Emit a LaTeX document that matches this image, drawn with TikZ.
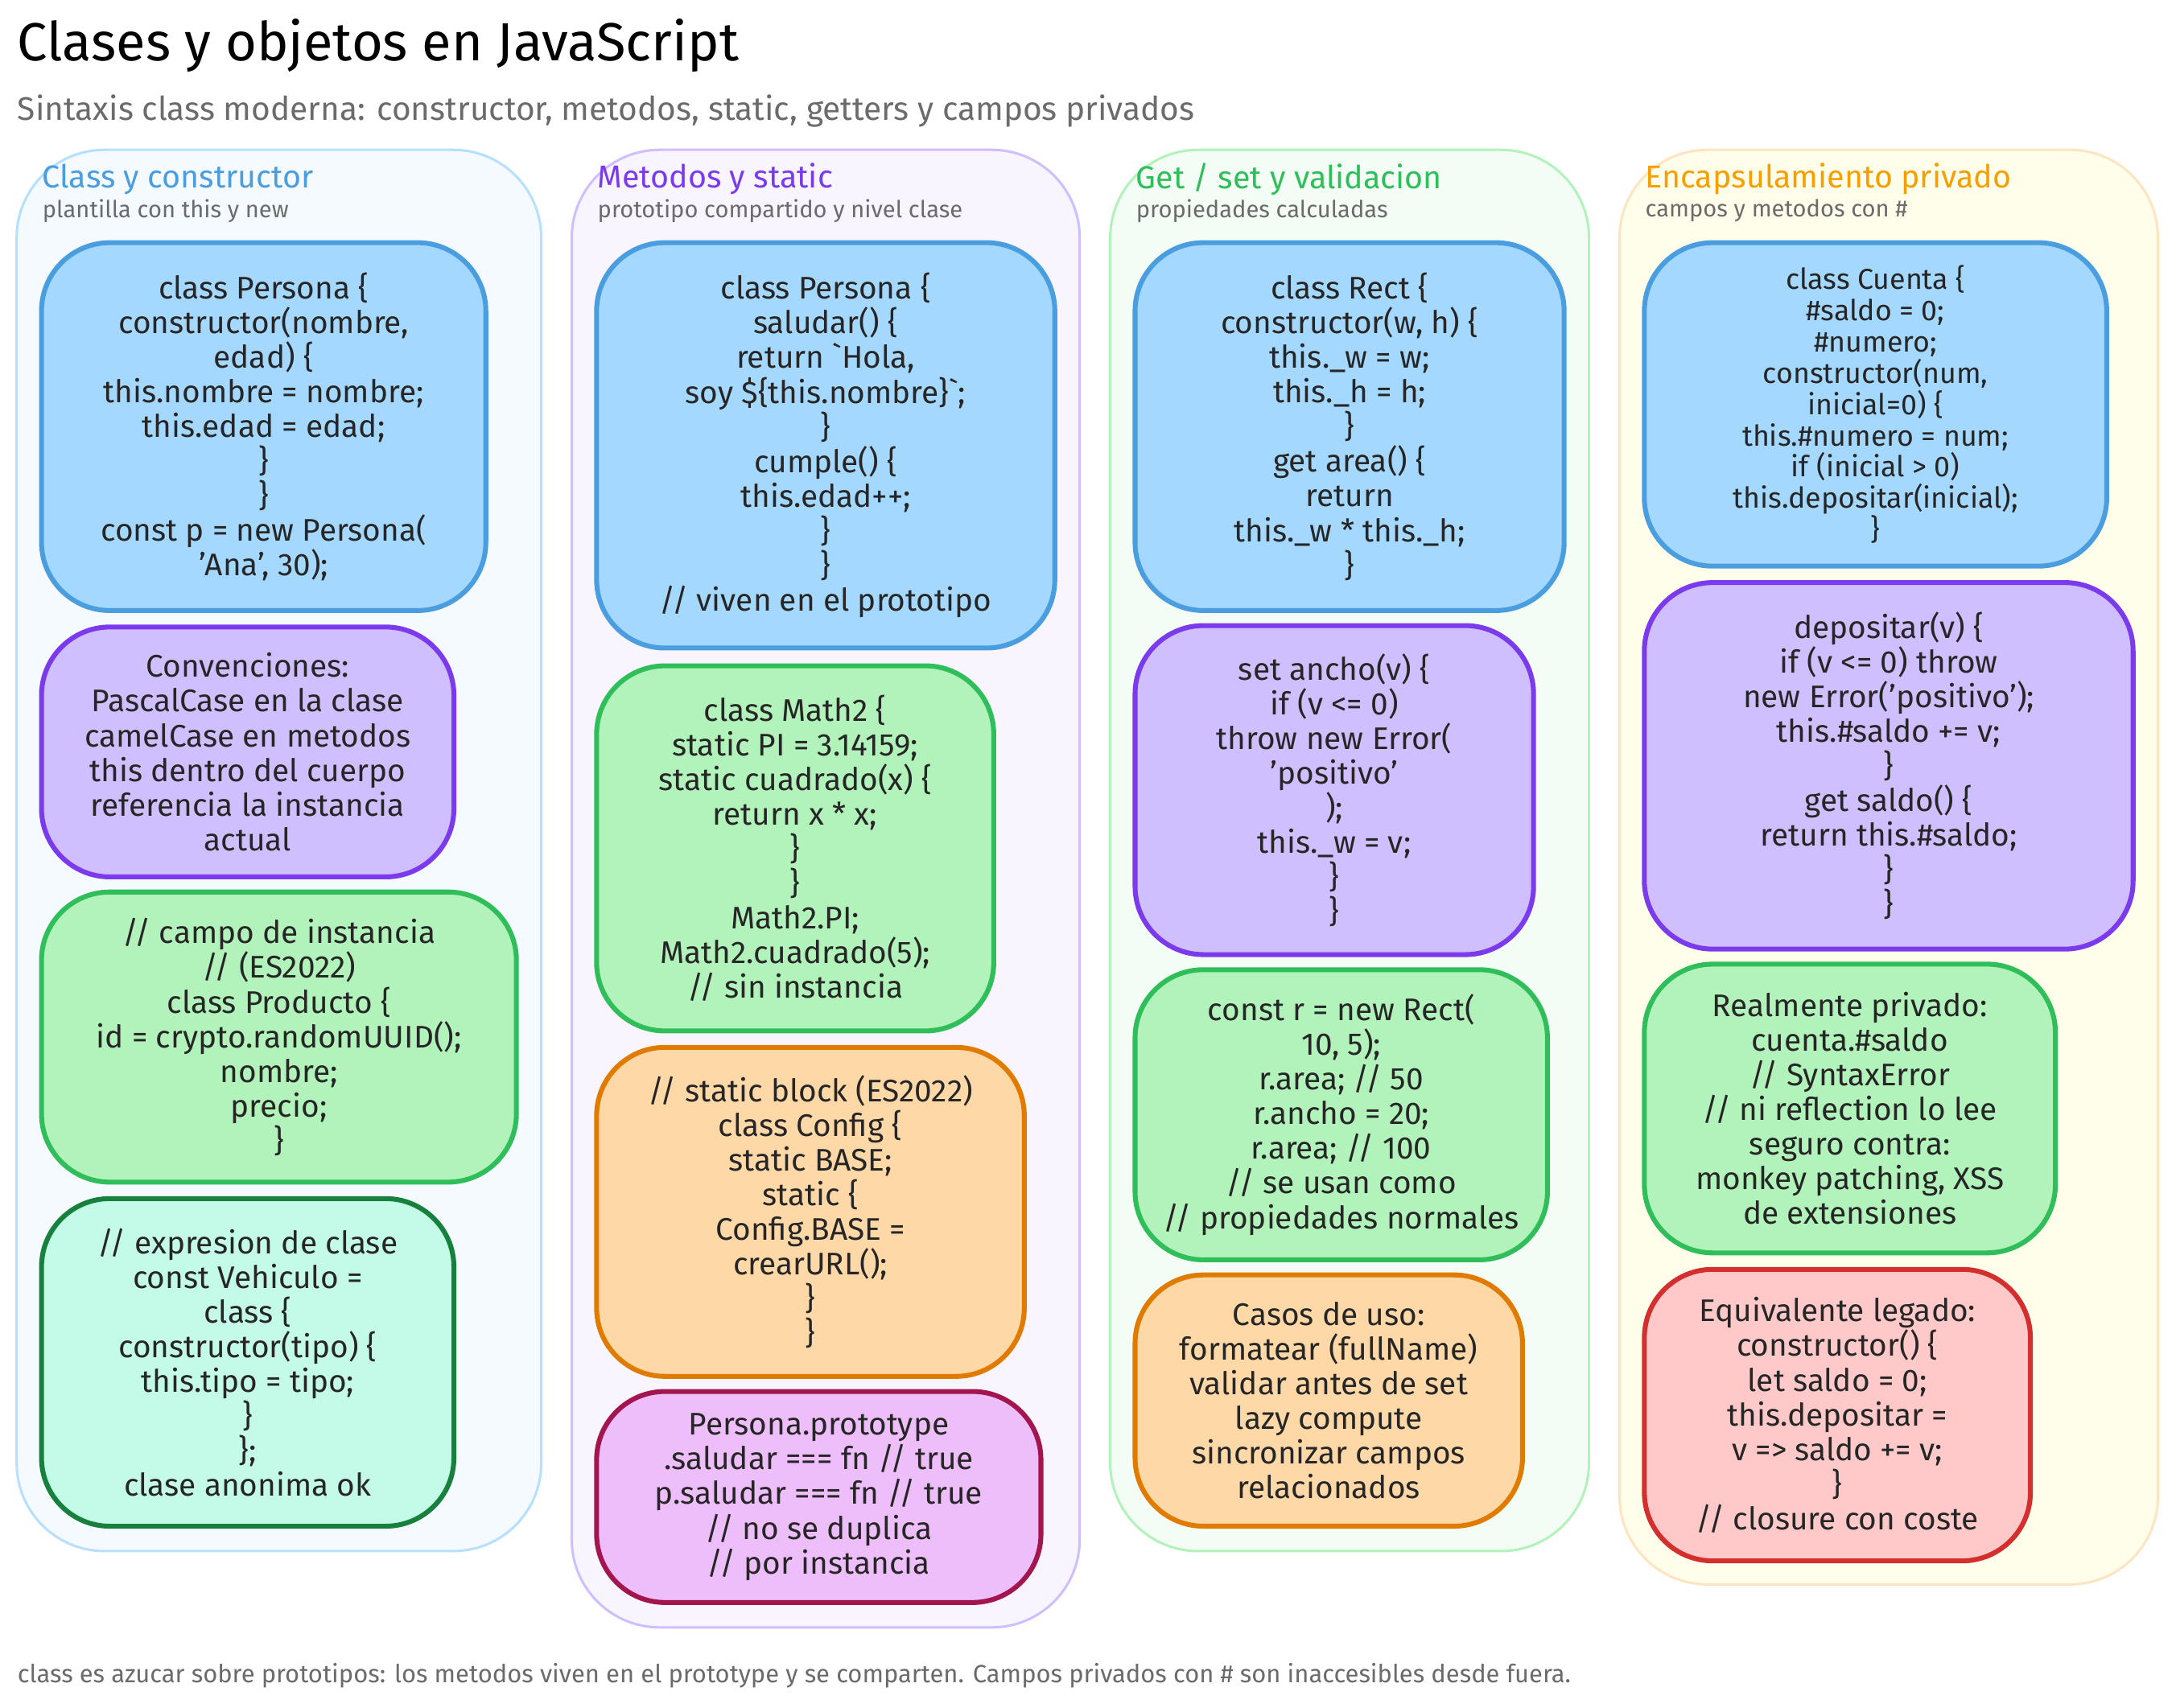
\documentclass[tikz,border=0pt]{standalone}
\usepackage{fontspec}
\setmainfont{Fira Sans}
\usetikzlibrary{positioning}
\definecolor{jsblue}{HTML}{A5D8FF}
\definecolor{jsbluedk}{HTML}{4A9EE0}
\definecolor{jspurple}{HTML}{D0BFFF}
\definecolor{jspurpledk}{HTML}{7C3AED}
\definecolor{jsgreen}{HTML}{B2F2BB}
\definecolor{jsgreendk}{HTML}{2FBE5A}
\definecolor{jsteal}{HTML}{C3FAE8}
\definecolor{jstealdk}{HTML}{17803D}
\definecolor{jsorange}{HTML}{FFD8A8}
\definecolor{jsorangedk}{HTML}{E07B00}
\definecolor{jspink}{HTML}{EEBEFA}
\definecolor{jspinkdk}{HTML}{A3154F}
\definecolor{jsred}{HTML}{FFC9C9}
\definecolor{jsreddk}{HTML}{D32F2F}
\definecolor{jsgray}{HTML}{6B6B6B}
\definecolor{jsyellowdk}{HTML}{F5A000}
\tikzset{
  lane/.style={draw, rounded corners=18pt, line width=0.5pt},
  box/.style={draw, rounded corners=14pt, line width=1pt, align=center,
    font=\fontsize{6.4}{7.1}\selectfont, text=black!85},
  bluebox/.style={box, fill=jsblue, draw=jsbluedk},
  purplebox/.style={box, fill=jspurple, draw=jspurpledk},
  greenbox/.style={box, fill=jsgreen, draw=jsgreendk},
  tealbox/.style={box, fill=jsteal, draw=jstealdk},
  orangebox/.style={box, fill=jsorange, draw=jsorangedk},
  pinkbox/.style={box, fill=jspink, draw=jspinkdk},
  redbox/.style={box, fill=jsred, draw=jsreddk},
  lanetitle/.style={anchor=west, inner sep=0pt, font=\fontsize{6.5}{8}\selectfont},
  lanesub/.style={anchor=west, inner sep=0pt, text=jsgray, font=\fontsize{4.8}{6}\selectfont},
}
\begin{document}
\begin{tikzpicture}[x=0.01cm, y=-0.01cm]
    \useasboundingbox[fill=white] (0,0) rectangle (1568,1231);
    % Title
    \node[anchor=west, inner sep=0pt, font=\fontsize{11}{13}\selectfont] (title) at (12,33) {Clases y objetos en JavaScript};
    \node[anchor=west, inner sep=0pt, text=jsgray, font=\fontsize{6.7}{8}\selectfont] (subtitle) at (12,80) {Sintaxis class moderna: constructor, metodos, static, getters y campos privados};

    % Lanes
    \draw[lane, fill=jsblue!12, draw=jsblue!80] (12,108) rectangle (390,1118);
    \draw[lane, fill=jspurple!15, draw=jspurple] (412,108) rectangle (778,1173);
    \draw[lane, fill=jsgreen!15, draw=jsgreen] (800,108) rectangle (1145,1118);
    \draw[lane, fill=yellow!8, draw=jsorange!70] (1167,108) rectangle (1555,1142);

    \node[lanetitle, text=jsbluedk] (t1) at (30,129) {Class y constructor};
    \node[lanesub] (s1) at (30,152) {plantilla con this y new};
    \node[lanetitle, text=jspurpledk] (t2) at (430,129) {Metodos y static};
    \node[lanesub] (s2) at (430,152) {prototipo compartido y nivel clase};
    \node[lanetitle, text=jsgreendk] (t3) at (818,129) {Get / set y validacion};
    \node[lanesub] (s3) at (818,152) {propiedades calculadas};
    \node[lanetitle, text=jsyellowdk] (t4) at (1185,129) {Encapsulamiento privado};
    \node[lanesub] (s4) at (1185,152) {campos y metodos con \#};

    % Column 1
    \node[bluebox, minimum width=3.2cm, minimum height=2.65cm] (ctor) at (190,307.5)
      {class Persona \{\\constructor(nombre,\\edad) \{\\this.nombre = nombre;\\this.edad = edad;\\\}\\\}\\const p = new Persona(\\'Ana', 30);};
    \node[purplebox, minimum width=2.97cm, minimum height=1.8cm] (conv) at (178.5,542)
      {Convenciones:\\PascalCase en la clase\\camelCase en metodos\\this dentro del cuerpo\\referencia la instancia\\actual};
    \node[greenbox, minimum width=3.42cm, minimum height=2.09cm] (campo) at (201,747.5)
      {// campo de instancia\\// (ES2022)\\class Producto \{\\id = crypto.randomUUID();\\nombre;\\precio;\\\}};
    \node[tealbox, minimum width=2.97cm, minimum height=2.36cm] (expr) at (178.5,982)
      {// expresion de clase\\const Vehiculo =\\class \{\\constructor(tipo) \{\\this.tipo = tipo;\\\}\\\};\\clase anonima ok};

    % Column 2
    \node[bluebox, minimum width=3.3cm, minimum height=2.92cm] (metodos) at (595,321)
      {class Persona \{\\saludar() \{\\return \textasciigrave Hola,\\soy \$\{this.nombre\}\textasciigrave;\\\}\\cumple() \{\\this.edad++;\\\}\\\}\\// viven en el prototipo};
    \node[greenbox, minimum width=2.86cm, minimum height=2.63cm] (math) at (573,611.5)
      {class Math2 \{\\static PI = 3.14159;\\static cuadrado(x) \{\\return x * x;\\\}\\\}\\Math2.PI;\\Math2.cuadrado(5);\\// sin instancia};
    \node[orangebox, minimum width=3.08cm, minimum height=2.37cm] (block) at (584,873.5)
      {// static block (ES2022)\\class Config \{\\static BASE;\\static \{\\Config.BASE =\\crearURL();\\\}\\\}};
    \node[pinkbox, minimum width=3.2cm, minimum height=1.52cm] (proto) at (590,1079)
      {Persona.prototype\\.saludar === fn // true\\p.saludar === fn // true\\// no se duplica\\// por instancia};

    % Column 3
    \node[bluebox, minimum width=3.09cm, minimum height=2.65cm] (rect) at (972.5,307.5)
      {class Rect \{\\constructor(w, h) \{\\this.\_w = w;\\this.\_h = h;\\\}\\get area() \{\\return\\this.\_w * this.\_h;\\\}};
    \node[purplebox, minimum width=2.87cm, minimum height=2.37cm] (setter) at (961.5,569.5)
      {set ancho(v) \{\\if (v <= 0)\\throw new Error(\\'positivo'\\);\\this.\_w = v;\\\}\\\}};
    \node[greenbox, minimum width=2.97cm, minimum height=2.09cm] (uso) at (966.5,803.5)
      {const r = new Rect(\\10, 5);\\r.area; // 50\\r.ancho = 20;\\r.area; // 100\\// se usan como\\// propiedades normales};
    \node[orangebox, minimum width=2.79cm, minimum height=1.81cm] (casos) at (957.5,1009.5)
      {Casos de uso:\\formatear (fullName)\\validar antes de set\\lazy compute\\sincronizar campos\\relacionados};

    % Column 4
    \node[bluebox, minimum width=3.33cm, minimum height=2.33cm, font=\fontsize{5.9}{6.4}\selectfont] (cuenta) at (1351.5,291.5)
      {class Cuenta \{\\\#saldo = 0;\\\#numero;\\constructor(num,\\inicial=0) \{\\this.\#numero = num;\\if (inicial > 0)\\this.depositar(inicial);\\\}};
    \node[purplebox, minimum width=3.52cm, minimum height=2.64cm] (depositar) at (1361,552)
      {depositar(v) \{\\if (v <= 0) throw\\new Error('positivo');\\this.\#saldo += v;\\\}\\get saldo() \{\\return this.\#saldo;\\\}\\\}};
    \node[greenbox, minimum width=2.96cm, minimum height=2.08cm] (privado) at (1333,799)
      {Realmente privado:\\cuenta.\#saldo\\// SyntaxError\\// ni reflection lo lee\\seguro contra:\\monkey patching, XSS\\de extensiones};
    \node[redbox, minimum width=2.78cm, minimum height=2.1cm] (legado) at (1324,1020)
      {Equivalente legado:\\constructor() \{\\let saldo = 0;\\this.depositar =\\v => saldo += v;\\\}\\// closure con coste};

    % Footer
    \node[anchor=west, inner sep=0pt, text=jsgray, font=\fontsize{5.1}{6}\selectfont] (footer) at (12,1208)
      {class es azucar sobre prototipos: los metodos viven en el prototype y se comparten. Campos privados con \# son inaccesibles desde fuera.};
\end{tikzpicture}
\end{document}
